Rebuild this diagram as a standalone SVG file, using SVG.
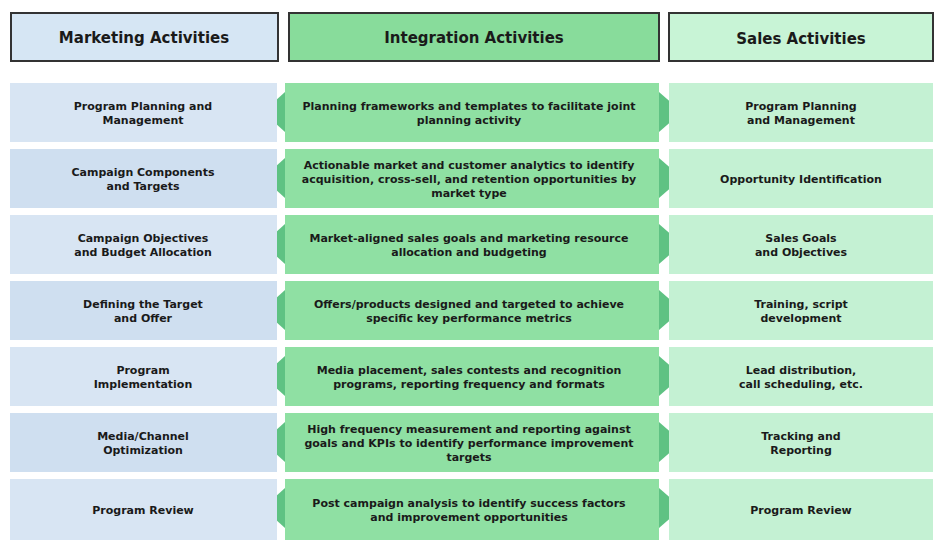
<svg xmlns="http://www.w3.org/2000/svg" width="945" height="548" viewBox="0 0 945 548">
<style>
text{font-family:"DejaVu Sans","Liberation Sans",sans-serif;font-weight:bold;text-anchor:middle;fill:#1a1a1a}
.h{font-size:15px}
.t{font-size:11px}
.hb{stroke:#333;stroke-width:2}
.l{fill:#d8e5f3}.l2{fill:#cfdff0}
.m{fill:#8fe0a3}
.r{fill:#c4f1d3}
.a{fill:#5fc283}
</style>
<rect width="945" height="548" fill="#fff"/>
<g id="headers">
<g id="h-marketing"><rect class="hb" x="11" y="13" width="267" height="48" fill="#d6e6f4"/><text class="h" x="144" y="43">Marketing Activities</text></g>
<g id="h-integration"><rect class="hb" x="289" y="13" width="370" height="48" fill="#88dc9b"/><text class="h" x="474" y="43">Integration Activities</text></g>
<g id="h-sales"><rect class="hb" x="669" y="13" width="264" height="48" fill="#c8f4d6"/><text class="h" x="801" y="44">Sales Activities</text></g>
</g>
<g id="connectors">
<polygon class="a" points="285,92 263,112 285,132"/>
<polygon class="a" points="285,158 263,178 285,198"/>
<polygon class="a" points="285,224 263,244 285,264"/>
<polygon class="a" points="285,290 263,310 285,330"/>
<polygon class="a" points="285,356 263,376 285,396"/>
<polygon class="a" points="285,422 263,442 285,462"/>
<polygon class="a" points="285,488 263,508 285,528"/>
<polygon class="a" points="659,92 682,112 659,132"/>
<polygon class="a" points="659,158 682,178 659,198"/>
<polygon class="a" points="659,224 682,244 659,264"/>
<polygon class="a" points="659,290 682,310 659,330"/>
<polygon class="a" points="659,356 682,376 659,396"/>
<polygon class="a" points="659,422 682,442 659,462"/>
<polygon class="a" points="659,488 682,508 659,528"/>
</g>
<g id="row1">
<g id="m1"><rect class="l" x="10" y="83" width="267" height="59"/><text class="t" x="143" y="110">Program Planning and</text><text class="t" x="143" y="124">Management</text></g>
<g id="i1"><rect class="m" x="285" y="83" width="374" height="59"/><text class="t" x="469" y="110">Planning frameworks and templates to facilitate joint</text><text class="t" x="469" y="124">planning activity</text></g>
<g id="s1"><rect class="r" x="669" y="83" width="264" height="59"/><text class="t" x="801" y="110">Program Planning</text><text class="t" x="801" y="124">and Management</text></g>
</g>
<g id="row2">
<g id="m2"><rect class="l2" x="10" y="149" width="267" height="59"/><text class="t" x="143" y="176">Campaign Components</text><text class="t" x="143" y="190">and Targets</text></g>
<g id="i2"><rect class="m" x="285" y="149" width="374" height="59"/><text class="t" x="469" y="169">Actionable market and customer analytics to identify</text><text class="t" x="469" y="183">acquisition, cross-sell, and retention opportunities by</text><text class="t" x="469" y="197">market type</text></g>
<g id="s2"><rect class="r" x="669" y="149" width="264" height="59"/><text class="t" x="801" y="183">Opportunity Identification</text></g>
</g>
<g id="row3">
<g id="m3"><rect class="l" x="10" y="215" width="267" height="59"/><text class="t" x="143" y="242">Campaign Objectives</text><text class="t" x="143" y="256">and Budget Allocation</text></g>
<g id="i3"><rect class="m" x="285" y="215" width="374" height="59"/><text class="t" x="469" y="242">Market-aligned sales goals and marketing resource</text><text class="t" x="469" y="256">allocation and budgeting</text></g>
<g id="s3"><rect class="r" x="669" y="215" width="264" height="59"/><text class="t" x="801" y="242">Sales Goals</text><text class="t" x="801" y="256">and Objectives</text></g>
</g>
<g id="row4">
<g id="m4"><rect class="l2" x="10" y="281" width="267" height="59"/><text class="t" x="143" y="308">Defining the Target</text><text class="t" x="143" y="322">and Offer</text></g>
<g id="i4"><rect class="m" x="285" y="281" width="374" height="59"/><text class="t" x="469" y="308">Offers/products designed and targeted to achieve</text><text class="t" x="469" y="322">specific key performance metrics</text></g>
<g id="s4"><rect class="r" x="669" y="281" width="264" height="59"/><text class="t" x="801" y="308">Training, script</text><text class="t" x="801" y="322">development</text></g>
</g>
<g id="row5">
<g id="m5"><rect class="l" x="10" y="347" width="267" height="59"/><text class="t" x="143" y="374">Program</text><text class="t" x="143" y="388">Implementation</text></g>
<g id="i5"><rect class="m" x="285" y="347" width="374" height="59"/><text class="t" x="469" y="374">Media placement, sales contests and recognition</text><text class="t" x="469" y="388">programs, reporting frequency and formats</text></g>
<g id="s5"><rect class="r" x="669" y="347" width="264" height="59"/><text class="t" x="801" y="374">Lead distribution,</text><text class="t" x="801" y="388">call scheduling, etc.</text></g>
</g>
<g id="row6">
<g id="m6"><rect class="l2" x="10" y="413" width="267" height="59"/><text class="t" x="143" y="440">Media/Channel</text><text class="t" x="143" y="454">Optimization</text></g>
<g id="i6"><rect class="m" x="285" y="413" width="374" height="59"/><text class="t" x="469" y="433">High frequency measurement and reporting against</text><text class="t" x="469" y="447">goals and KPIs to identify performance improvement</text><text class="t" x="469" y="461">targets</text></g>
<g id="s6"><rect class="r" x="669" y="413" width="264" height="59"/><text class="t" x="801" y="440">Tracking and</text><text class="t" x="801" y="454">Reporting</text></g>
</g>
<g id="row7">
<g id="m7"><rect class="l" x="10" y="479" width="267" height="61"/><text class="t" x="143" y="514">Program Review</text></g>
<g id="i7"><rect class="m" x="285" y="479" width="374" height="61"/><text class="t" x="469" y="507">Post campaign analysis to identify success factors</text><text class="t" x="469" y="521">and improvement opportunities</text></g>
<g id="s7"><rect class="r" x="669" y="479" width="264" height="61"/><text class="t" x="801" y="514">Program Review</text></g>
</g>
</svg>
